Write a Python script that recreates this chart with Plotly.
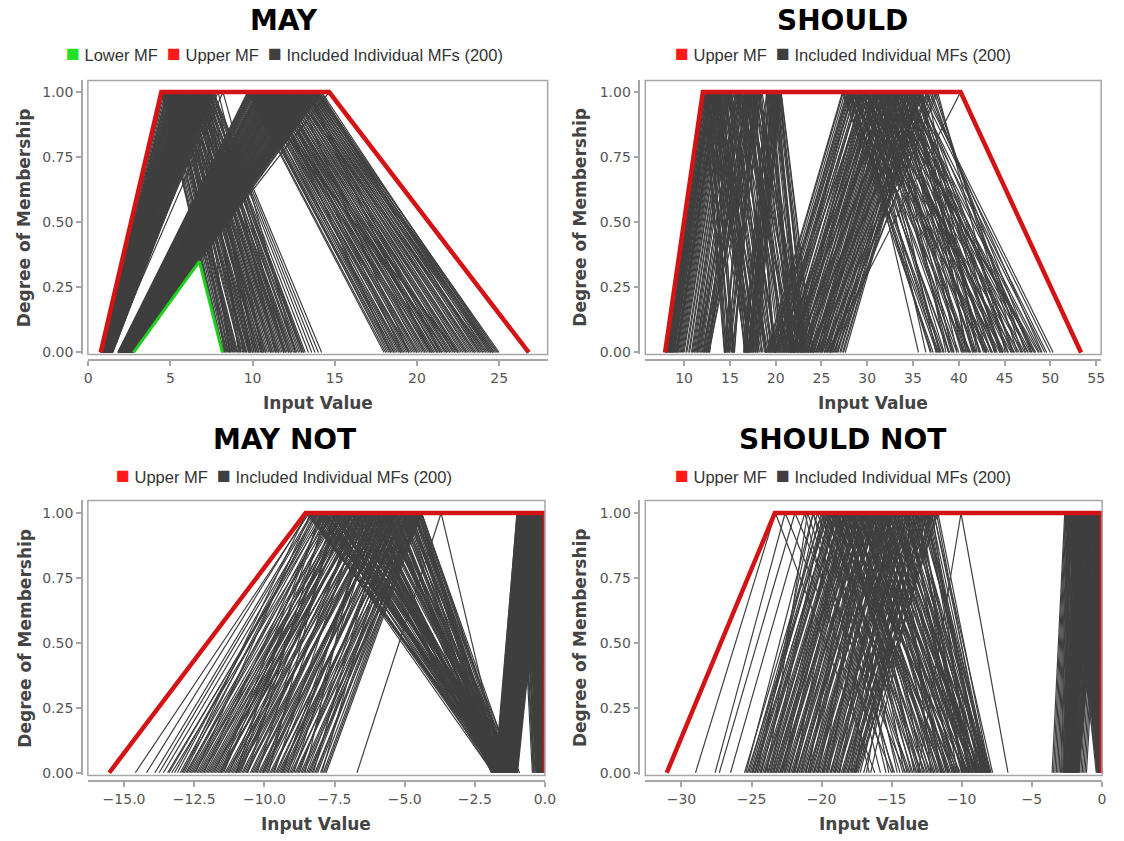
import plotly.graph_objects as go

W, H = 1124, 841

# ---------------- MAY ----------------
MAY_UPPER_X = [0.76, 4.45, 14.66, 26.8]
MAY_UPPER_Y = [0.0, 1.0, 1.0, 0.0]
MAY_LOWER_X = [2.76, 6.76, 8.16]
MAY_LOWER_Y = [0.0, 0.35, 0.0]
# individual triangular MFs as (left foot, peak, right foot)
MAY_EARLY_MFS = [
    (0.76, 4.45, 8.16), (0.78, 4.55, 8.25), (0.80, 4.70, 8.45), (0.83, 4.85, 8.40), (0.82, 4.90, 8.70),
    (0.86, 5.00, 8.95), (0.88, 5.05, 9.10), (0.90, 5.15, 9.05), (0.92, 5.25, 9.40), (0.93, 5.30, 9.60),
    (0.95, 5.40, 9.75), (0.97, 5.45, 9.55), (0.99, 5.55, 10.0), (1.00, 5.60, 10.2), (1.02, 5.65, 9.90),
    (1.03, 5.70, 10.4), (1.05, 5.80, 10.5), (1.07, 5.85, 10.3), (1.08, 5.90, 10.8), (1.10, 6.00, 10.9),
    (1.11, 6.05, 11.1), (1.13, 6.10, 10.7), (1.14, 6.20, 11.3), (1.16, 6.25, 11.5), (1.18, 6.30, 11.2),
    (1.19, 6.40, 11.7), (1.21, 6.45, 11.9), (1.22, 6.50, 11.6), (1.24, 6.60, 12.1), (1.26, 6.65, 12.2),
    (1.27, 6.75, 12.0), (1.29, 6.80, 12.4), (1.31, 6.90, 12.6), (1.33, 7.00, 12.3), (1.35, 7.05, 12.8),
    (1.38, 7.15, 13.0), (1.40, 7.25, 13.2), (1.43, 7.40, 13.1), (1.46, 7.50, 13.8), (1.50, 7.60, 14.2),
    (1.20, 7.90, 11.9), (1.32, 8.20, 12.6), (0.95, 6.35, 8.60), (1.05, 6.70, 9.30), (0.85, 5.75, 8.30),
    (1.25, 7.30, 9.80), (0.79, 5.20, 8.90), (1.15, 6.95, 10.1), (0.77, 4.50, 8.20), (0.79, 4.62, 8.35),
    (0.81, 4.78, 8.55), (0.84, 4.80, 8.62), (0.85, 4.95, 8.80), (0.87, 5.02, 8.85), (0.89, 5.10, 9.00),
    (0.91, 5.20, 9.25), (0.92, 5.28, 9.30), (0.94, 5.35, 9.50), (0.96, 5.42, 9.65), (0.98, 5.50, 9.85),
    (1.00, 5.58, 9.80), (1.01, 5.62, 10.1), (1.03, 5.68, 10.0), (1.04, 5.75, 10.3), (1.06, 5.82, 10.6),
    (1.08, 5.88, 10.4), (1.09, 5.95, 10.7), (1.11, 6.02, 11.0), (1.12, 6.08, 10.8), (1.14, 6.15, 11.2),
    (1.15, 6.22, 11.4), (1.17, 6.28, 11.1), (1.19, 6.35, 11.6), (1.20, 6.42, 11.8), (1.22, 6.48, 11.5),
    (1.23, 6.55, 12.0), (1.25, 6.62, 12.3), (1.27, 6.70, 11.9), (1.28, 6.72, 12.5), (1.30, 6.85, 12.7),
    (1.32, 6.95, 12.2), (1.34, 7.02, 12.9), (1.36, 7.10, 13.1), (1.37, 7.20, 12.6), (1.39, 7.30, 13.4),
    (1.41, 7.35, 13.0), (1.44, 7.45, 13.6), (1.47, 7.55, 14.0), (0.81, 5.30, 8.50), (0.90, 5.65, 8.75),
    (0.99, 6.00, 9.20), (1.08, 6.35, 9.45), (1.17, 6.70, 9.90), (1.26, 7.05, 10.2), (1.35, 7.40, 10.6),
    (1.44, 7.70, 11.4), (0.88, 5.85, 8.65), (1.12, 6.90, 9.15), (1.10, 6.12, 10.55),
]
MAY_LATE_MFS = [
    (1.80, 9.70, 18.0), (1.84, 9.85, 18.3), (1.86, 9.95, 18.6), (1.88, 10.05, 18.2), (1.90, 10.15, 18.9),
    (1.93, 10.30, 19.1), (1.95, 10.40, 18.7), (1.97, 10.50, 19.4), (2.00, 10.60, 19.6), (2.02, 10.70, 19.2),
    (2.04, 10.80, 19.9), (2.06, 10.90, 20.1), (2.08, 11.00, 19.7), (2.10, 11.10, 20.4), (2.12, 11.20, 20.6),
    (2.14, 11.30, 20.2), (2.16, 11.40, 20.9), (2.18, 11.50, 21.1), (2.20, 11.60, 20.7), (2.22, 11.70, 21.4),
    (2.24, 11.80, 21.6), (2.26, 11.90, 21.2), (2.28, 12.00, 21.9), (2.30, 12.10, 22.1), (2.32, 12.20, 21.7),
    (2.34, 12.30, 22.4), (2.36, 12.40, 22.6), (2.38, 12.50, 22.2), (2.40, 12.60, 22.9), (2.42, 12.70, 23.1),
    (2.44, 12.80, 22.7), (2.46, 12.90, 23.4), (2.48, 13.00, 23.6), (2.50, 13.10, 23.2), (2.52, 13.20, 23.9),
    (2.54, 13.30, 24.1), (2.56, 13.40, 23.7), (2.58, 13.50, 24.4), (2.60, 13.60, 24.6), (2.62, 13.70, 24.2),
    (2.64, 13.80, 24.8), (2.66, 13.90, 25.0), (2.68, 14.00, 24.5), (2.76, 14.20, 24.7), (2.30, 14.66, 26.8),
    (2.05, 11.25, 18.4), (2.35, 12.65, 19.5), (2.15, 10.45, 21.8), (2.45, 13.35, 20.8), (1.92, 9.90, 22.5),
    (1.81, 9.75, 18.1), (1.83, 9.80, 18.5), (1.85, 9.92, 18.4), (1.87, 10.00, 18.8), (1.89, 10.10, 19.0),
    (1.91, 10.22, 18.6), (1.94, 10.35, 19.3), (1.96, 10.45, 19.5), (1.98, 10.55, 19.0), (2.01, 10.65, 19.8),
    (2.03, 10.75, 20.0), (2.05, 10.85, 19.5), (2.07, 10.95, 20.3), (2.09, 11.05, 20.5), (2.11, 11.15, 20.0),
    (2.13, 11.25, 20.8), (2.15, 11.35, 21.0), (2.17, 11.45, 20.5), (2.19, 11.55, 21.3), (2.21, 11.65, 21.5),
    (2.23, 11.75, 21.0), (2.25, 11.85, 21.8), (2.27, 11.95, 22.0), (2.29, 12.05, 21.5), (2.31, 12.15, 22.3),
    (2.33, 12.25, 22.5), (2.35, 12.35, 22.0), (2.37, 12.45, 22.8), (2.39, 12.55, 23.0), (2.41, 12.65, 22.5),
    (2.43, 12.75, 23.3), (2.45, 12.85, 23.5), (2.47, 12.95, 23.0), (2.49, 13.05, 23.8), (2.51, 13.15, 24.0),
    (2.53, 13.25, 23.5), (2.55, 13.35, 24.3), (2.57, 13.45, 24.5), (2.59, 13.55, 24.0), (2.61, 13.65, 24.7),
    (2.63, 13.75, 24.9), (2.65, 13.85, 24.4), (2.67, 13.95, 24.6), (2.69, 14.05, 24.9), (1.96, 10.40, 20.9),
    (2.11, 11.00, 22.3), (2.27, 11.70, 19.1), (2.43, 12.50, 24.2), (2.58, 13.40, 21.4), (2.72, 14.15, 23.8),
    (2.20, 11.62, 21.25),
]

# ---------------- SHOULD ----------------
SHOULD_UPPER_X = [7.92, 12.05, 40.2, 53.35]
SHOULD_UPPER_Y = [0.0, 1.0, 1.0, 0.0]
SHOULD_EARLY_MFS = [
    (7.95, 12.10, 14.40), (8.10, 12.30, 14.45), (8.30, 12.60, 15.00), (8.05, 12.20, 16.80), (8.50, 12.90, 17.20),
    (8.70, 13.10, 15.30), (8.20, 12.45, 17.60), (8.90, 13.30, 18.00), (9.10, 13.60, 16.90), (8.40, 12.75, 14.90),
    (9.30, 13.80, 18.40), (9.50, 14.00, 17.40), (8.60, 13.00, 19.00), (9.70, 14.20, 18.80), (9.90, 14.50, 17.00),
    (10.20, 14.70, 19.40), (8.80, 13.40, 15.45), (10.50, 14.90, 18.20), (9.20, 13.70, 16.60), (10.80, 15.00, 19.80),
    (11.0, 15.2, 19.0), (11.4, 15.6, 20.2), (12.8, 14.9, 17.0), (11.8, 16.0, 19.6), (12.2, 16.4, 21.0),
    (12.5, 16.8, 20.4), (11.2, 15.8, 22.0), (12.0, 17.0, 21.6), (14.4, 17.2, 20.0), (12.6, 17.5, 22.4),
    (14.6, 17.8, 21.2), (14.9, 18.0, 22.8), (12.4, 18.2, 23.0), (15.2, 18.4, 21.8), (15.5, 17.6, 19.8),
    (11.6, 16.2, 18.5), (12.7, 18.5, 23.6), (14.5, 16.6, 18.9),
    (16.5, 19.0, 21.6), (16.8, 19.3, 22.3), (17.1, 19.6, 22.0), (16.6, 19.8, 23.0), (17.4, 20.0, 22.7),
    (17.0, 20.2, 23.4), (17.7, 20.4, 23.8), (16.9, 20.6, 24.1), (17.3, 19.5, 21.9), (18.0, 20.5, 23.2),
    (8.00, 12.15, 14.60), (8.15, 12.35, 15.20), (8.25, 12.55, 17.00), (8.35, 12.70, 14.70), (8.45, 12.85, 17.40),
    (8.55, 12.95, 15.40), (8.65, 13.05, 17.80), (8.75, 13.20, 18.20), (8.85, 13.35, 16.70), (8.95, 13.45, 18.60),
    (9.05, 13.55, 15.35), (9.15, 13.65, 19.20), (9.25, 13.75, 17.10), (9.40, 13.90, 18.00), (9.60, 14.10, 16.80),
    (9.80, 14.35, 19.00), (10.0, 14.55, 17.60), (10.3, 14.75, 18.90), (10.6, 14.85, 19.60), (10.9, 15.05, 20.20),
    (11.1, 15.4, 19.3), (11.3, 15.7, 21.4), (11.5, 15.9, 20.0), (11.7, 16.1, 22.2), (11.9, 16.3, 19.9),
    (12.1, 16.6, 21.8), (12.3, 16.9, 20.6), (12.45, 17.1, 22.6), (12.65, 17.3, 21.0), (12.75, 17.7, 23.2),
    (14.45, 17.0, 19.5), (14.7, 17.4, 20.8), (14.8, 17.9, 21.5), (15.0, 18.1, 22.0), (15.3, 18.3, 20.5),
    (15.45, 17.7, 19.9), (12.35, 18.0, 23.4), (11.45, 16.7, 21.2),
    (16.55, 19.1, 22.0), (16.7, 19.4, 21.8), (16.95, 19.7, 22.5), (17.2, 19.9, 23.1), (17.5, 20.1, 22.9),
    (17.6, 20.3, 23.6), (17.8, 20.55, 24.0), (16.75, 19.25, 21.7), (17.15, 20.45, 23.3), (17.95, 20.25, 22.4),
    (8.48, 12.80, 14.55), (12.15, 17.2, 22.1), (17.35, 19.75, 22.8),
]
SHOULD_LATE_MFS = [
    (19.0, 27.3, 37.2), (19.3, 27.6, 37.8), (19.6, 27.9, 38.3), (19.9, 28.2, 37.0), (20.2, 28.5, 38.9),
    (20.5, 29.0, 35.6), (20.8, 29.2, 39.4), (21.1, 29.5, 38.0), (21.4, 29.8, 40.0), (21.7, 30.1, 36.4),
    (22.0, 30.4, 40.6), (22.3, 30.7, 39.2), (22.6, 31.0, 41.2), (22.9, 31.3, 37.5), (23.2, 31.6, 41.8),
    (23.5, 31.9, 40.3), (23.8, 32.2, 42.4), (24.1, 32.5, 38.6), (24.4, 32.8, 43.0), (24.7, 33.1, 41.5),
    (25.0, 33.4, 43.6), (25.3, 33.7, 39.8), (25.6, 34.0, 44.2), (25.9, 34.3, 42.7), (26.2, 34.6, 44.8),
    (26.5, 34.9, 41.0), (26.8, 35.2, 45.4), (27.1, 35.5, 43.9), (27.4, 35.8, 46.0), (27.6, 35.8, 42.2),
    (19.8, 30.0, 46.6), (20.6, 31.5, 47.2), (21.3, 32.6, 47.8), (22.1, 33.5, 48.4), (22.8, 34.4, 49.0),
    (23.6, 35.4, 49.6), (24.3, 36.2, 50.3), (25.1, 36.8, 48.0), (25.8, 37.3, 46.9), (26.3, 37.7, 45.1),
    (20.0, 28.8, 44.5), (21.0, 30.6, 45.7), (22.5, 32.0, 44.0), (23.9, 33.3, 46.3), (24.9, 34.5, 47.5),
    (19.4, 28.0, 42.9), (26.0, 36.0, 40.8), (21.9, 29.4, 43.3), (23.3, 30.9, 45.0), (24.6, 31.8, 48.7),
    (25.6, 40.2, 53.35),
    (19.1, 27.4, 37.6), (19.5, 27.8, 38.1), (19.7, 28.1, 36.9), (20.1, 28.4, 39.0), (20.4, 28.7, 37.7),
    (20.9, 29.1, 39.8), (21.2, 29.6, 38.4), (21.5, 29.9, 40.5), (21.8, 30.2, 37.9), (22.2, 30.5, 41.1),
    (22.4, 30.8, 39.5), (22.7, 31.1, 41.7), (23.0, 31.4, 38.9), (23.4, 31.7, 42.3), (23.7, 32.0, 40.7),
    (24.0, 32.4, 42.9), (24.2, 32.7, 39.3), (24.5, 33.0, 43.5), (24.8, 33.3, 41.9), (25.1, 33.6, 44.1),
    (25.4, 33.9, 40.4), (25.7, 34.2, 44.7), (26.0, 34.5, 43.1), (26.4, 34.8, 45.3), (26.7, 35.1, 41.6),
    (27.0, 35.4, 45.9), (27.3, 35.7, 44.5), (19.9, 29.3, 46.1), (20.8, 30.9, 47.0), (21.6, 32.1, 47.6),
    (22.3, 33.2, 48.2), (23.1, 34.1, 48.8), (23.8, 35.0, 49.4), (24.6, 35.9, 50.0), (25.3, 36.5, 49.1),
    (25.9, 37.0, 47.3), (26.6, 37.5, 46.4), (20.3, 29.7, 44.8), (21.4, 31.2, 45.4), (22.9, 32.9, 44.6),
    (24.4, 34.0, 46.8), (25.5, 35.6, 47.9), (19.2, 28.5, 43.7), (26.1, 36.6, 42.0), (22.0, 29.9, 43.0),
    (23.5, 31.3, 44.0), (24.9, 32.3, 48.3), (20.7, 28.3, 41.3), (21.95, 31.0, 40.9), (24.15, 33.55, 45.8),
]

# ---------------- MAY NOT ----------------
MAY_NOT_UPPER_X = [-15.53, -8.53, 0.0, 0.0]
MAY_NOT_UPPER_Y = [0.0, 1.0, 1.0, 0.0]
MAY_NOT_WIDE_MFS = [
    (-14.6, -8.40, -1.60), (-13.9, -8.30, -1.75), (-13.6, -8.10, -1.20), (-13.3, -7.60, -1.55), (-13.0, -7.90, -1.85),
    (-12.8, -7.40, -1.30), (-12.7, -7.70, -1.65), (-12.6, -7.20, -1.45), (-12.5, -6.90, -1.10), (-12.4, -7.50, -1.70),
    (-12.3, -7.00, -1.35), (-12.2, -6.70, -1.80), (-12.1, -7.30, -1.25), (-12.0, -6.80, -1.50), (-11.9, -6.50, -1.60),
    (-11.8, -7.10, -1.05), (-11.7, -6.60, -1.40), (-11.6, -6.30, -1.75), (-11.5, -6.90, -1.20), (-11.4, -6.40, -1.55),
    (-11.3, -6.00, -1.90), (-11.2, -6.70, -1.30), (-11.1, -6.20, -1.65), (-11.0, -5.80, -1.15), (-10.9, -6.50, -1.45),
    (-10.8, -6.10, -1.85), (-10.7, -5.70, -1.35), (-10.6, -6.30, -1.60), (-10.5, -5.90, -1.00), (-10.4, -5.50, -1.70),
    (-10.3, -6.00, -1.25), (-10.2, -5.60, -1.50), (-10.1, -5.30, -1.80), (-10.0, -5.80, -1.10), (-9.9, -5.40, -1.40),
    (-9.8, -5.10, -1.65), (-9.7, -5.70, -1.30), (-9.6, -5.20, -1.55), (-9.5, -4.90, -1.20), (-9.4, -5.50, -1.75),
    (-9.3, -5.00, -1.45), (-9.2, -4.70, -1.05), (-9.1, -5.30, -1.60), (-9.0, -4.80, -1.35), (-8.9, -4.50, -1.70),
    (-8.8, -5.10, -1.15), (-8.7, -4.60, -1.50), (-8.6, -4.40, -1.25), (-8.5, -4.90, -1.80), (-8.4, -4.50, -1.40),
    (-8.3, -4.70, -1.60), (-8.2, -4.40, -1.10), (-8.1, -4.60, -1.45), (-8.0, -4.50, -1.30), (-7.9, -4.50, -1.55),
    (-7.8, -4.40, -1.20), (-6.7, -3.70, -1.50), (-12.9, -8.50, -1.40), (-13.1, -8.20, -1.00), (-11.0, -8.00, -1.70),
    (-10.6, -7.80, -1.35), (-12.45, -8.35, -1.85), (-9.85, -7.50, -1.55), (-11.45, -7.65, -0.95), (-10.25, -7.35, -1.75),
    (-9.15, -6.20, -1.25), (-8.55, -6.40, -1.60), (-8.95, -5.95, -1.45), (-9.65, -6.55, -1.90), (-10.85, -7.05, -1.15),
    (-11.25, -7.25, -1.50), (-12.15, -7.85, -1.65), (-13.4, -7.95, -1.30), (-8.25, -5.65, -0.90), (-7.95, -5.35, -1.75),
    (-14.2, -8.45, -1.50), (-13.75, -8.25, -1.65), (-13.45, -7.85, -1.35), (-12.95, -7.55, -1.80), (-12.75, -7.80, -1.20),
    (-12.65, -7.35, -1.55), (-12.55, -7.05, -1.70), (-12.35, -7.15, -1.40), (-12.25, -6.85, -1.85), (-12.05, -6.95, -1.10),
    (-11.95, -6.65, -1.60), (-11.85, -6.45, -1.30), (-11.75, -6.85, -1.75), (-11.65, -6.25, -1.45), (-11.55, -6.55, -1.15),
    (-11.35, -6.15, -1.65), (-11.15, -6.35, -1.90), (-11.05, -5.95, -1.25), (-10.95, -5.75, -1.55), (-10.75, -6.05, -1.35),
    (-10.65, -5.65, -1.80), (-10.45, -5.85, -1.05), (-10.35, -5.45, -1.50), (-10.15, -5.55, -1.70), (-10.05, -5.25, -1.20),
    (-9.95, -5.65, -1.60), (-9.75, -5.15, -1.40), (-9.55, -5.35, -1.85), (-9.45, -4.95, -1.15), (-9.35, -5.05, -1.65),
    (-9.25, -4.85, -1.30), (-9.05, -4.65, -1.55), (-8.85, -4.75, -1.75), (-8.65, -4.55, -1.45), (-8.45, -4.45, -1.25),
    (-8.35, -4.85, -1.60), (-8.15, -4.65, -1.35), (-7.85, -4.45, -1.50), (-12.85, -8.15, -1.75), (-11.55, -7.95, -1.40),
    (-10.95, -7.45, -1.65), (-10.05, -6.75, -1.30), (-9.35, -6.05, -1.80), (-8.75, -5.45, -1.20), (-13.2, -8.05, -1.55),
]
MAY_NOT_NARROW_MFS = [
    (-1.75, -1.00, -0.10), (-1.70, -0.95, -0.05), (-1.68, -0.90, -0.20), (-1.65, -0.85, 0.00), (-1.62, -0.82, -0.15),
    (-1.60, -0.78, -0.02), (-1.57, -0.75, -0.25), (-1.55, -0.72, -0.08), (-1.52, -0.70, 0.00), (-1.50, -0.66, -0.12),
    (-1.47, -0.63, -0.30), (-1.45, -0.60, -0.04), (-1.42, -0.57, 0.00), (-1.40, -0.54, -0.18), (-1.37, -0.51, -0.06),
    (-1.35, -0.48, 0.00), (-1.32, -0.45, -0.10), (-1.30, -0.42, -0.22), (-1.27, -0.39, 0.00), (-1.25, -0.36, -0.03),
    (-1.22, -0.33, -0.14), (-1.20, -0.30, 0.00), (-1.17, -0.27, -0.07), (-1.15, -0.24, 0.00), (-1.12, -0.21, -0.05),
    (-1.10, -0.18, 0.00), (-1.07, -0.15, -0.02), (-1.05, -0.12, 0.00), (-1.02, -0.09, 0.00), (-1.00, -0.05, 0.00),
    (-1.60, -0.98, -0.35), (-1.48, -0.88, -0.28), (-1.38, -0.68, -0.40), (-1.28, -0.58, -0.16), (-1.18, -0.50, -0.09),
    (-1.08, -0.40, -0.20), (-1.72, -0.93, -0.45), (-1.44, -0.80, -0.12), (-1.33, -0.62, -0.26), (-1.21, -0.47, -0.01),
    (-1.78, -0.99, -0.22), (-1.74, -0.96, -0.08), (-1.71, -0.92, 0.00), (-1.69, -0.88, -0.30), (-1.66, -0.86, -0.04),
    (-1.63, -0.83, 0.00), (-1.61, -0.80, -0.18), (-1.58, -0.77, -0.06), (-1.56, -0.74, 0.00), (-1.53, -0.71, -0.24),
    (-1.51, -0.68, -0.02), (-1.49, -0.65, 0.00), (-1.46, -0.62, -0.14), (-1.43, -0.59, -0.05), (-1.41, -0.56, 0.00),
    (-1.39, -0.53, -0.20), (-1.36, -0.50, -0.03), (-1.34, -0.47, 0.00), (-1.31, -0.44, -0.11), (-1.29, -0.41, 0.00),
    (-1.26, -0.38, -0.16), (-1.24, -0.35, -0.01), (-1.21, -0.32, 0.00), (-1.19, -0.29, -0.08), (-1.16, -0.26, 0.00),
    (-1.14, -0.23, -0.04), (-1.11, -0.20, 0.00), (-1.09, -0.17, -0.02), (-1.06, -0.14, 0.00), (-1.04, -0.11, 0.00),
    (-1.01, -0.07, 0.00), (-0.98, -0.02, 0.00), (-1.66, -0.97, -0.38), (-1.54, -0.90, -0.32), (-1.42, -0.73, -0.27),
    (-1.30, -0.64, -0.19), (-1.20, -0.55, -0.13), (-1.10, -0.44, -0.28), (-1.50, -0.84, -0.42), (-1.25, -0.52, -0.07),
]

# ---------------- SHOULD NOT ----------------
SHOULD_NOT_UPPER_X = [-31.05, -23.34, 0.0, 0.0]
SHOULD_NOT_UPPER_Y = [0.0, 1.0, 1.0, 0.0]
SHOULD_NOT_WIDE_MFS = [
    (-29.0, -23.3, -16.2), (-27.6, -22.6, -15.0), (-27.3, -21.9, -14.0), (-26.5, -21.2, -16.6), (-25.4, -20.6, -13.8),
    (-25.2, -20.0, -15.4), (-25.0, -19.6, -12.9), (-24.8, -19.3, -13.5), (-24.6, -19.0, -12.4), (-24.4, -18.8, -14.6),
    (-24.2, -18.6, -12.0), (-24.0, -18.4, -13.1), (-23.8, -18.2, -11.6), (-23.6, -18.0, -12.7), (-23.4, -17.8, -11.2),
    (-23.2, -17.6, -12.3), (-23.0, -17.4, -10.8), (-22.8, -17.2, -11.9), (-22.6, -17.0, -10.5), (-22.4, -16.8, -11.5),
    (-22.2, -16.6, -10.2), (-22.0, -16.4, -11.1), (-21.8, -16.2, -9.9), (-21.6, -16.0, -10.7), (-21.4, -15.8, -9.6),
    (-21.2, -15.6, -10.4), (-21.0, -15.4, -9.3), (-20.8, -15.2, -10.0), (-20.6, -15.0, -9.0), (-20.4, -14.8, -9.7),
    (-20.2, -14.6, -8.8), (-20.0, -14.4, -9.4), (-19.8, -14.2, -8.5), (-19.6, -14.0, -9.1), (-19.4, -13.8, -8.3),
    (-19.2, -13.6, -8.9), (-19.0, -13.4, -8.1), (-18.8, -13.2, -8.7), (-18.6, -13.0, -7.9), (-18.4, -12.8, -8.4),
    (-18.2, -12.6, -8.0), (-18.0, -12.4, -8.6), (-17.8, -12.2, -8.2), (-17.6, -12.0, -7.8), (-17.4, -11.8, -8.3),
    (-17.5, -11.7, -8.0), (-13.1, -10.05, -6.7), (-25.3, -19.5, -14.2), (-24.9, -19.2, -11.3), (-24.5, -18.9, -10.9),
    (-24.1, -18.5, -13.3), (-23.7, -18.1, -10.1), (-23.3, -17.7, -12.5), (-22.9, -17.3, -9.8), (-22.5, -16.9, -12.1),
    (-22.1, -16.5, -9.2), (-21.7, -16.1, -11.8), (-21.3, -15.7, -8.7), (-20.9, -15.3, -11.4), (-20.5, -14.9, -8.4),
    (-20.1, -14.5, -10.6), (-19.7, -14.1, -8.2), (-19.3, -13.7, -10.3), (-18.9, -13.3, -9.5), (-18.5, -12.9, -9.9),
    (-18.1, -12.5, -9.2), (-17.7, -12.1, -9.5), (-24.7, -20.3, -13.7), (-23.9, -21.0, -14.8), (-25.1, -19.8, -12.6),
    (-24.3, -19.4, -10.4), (-23.5, -18.7, -9.7), (-22.7, -18.3, -11.7), (-21.9, -17.1, -8.9), (-21.1, -16.7, -10.9),
    (-20.3, -16.3, -8.6), (-19.5, -15.9, -11.0), (-18.7, -15.5, -9.0), (-17.9, -15.1, -11.5), (-17.6, -14.7, -8.8),
    (-23.1, -17.9, -13.0), (-22.3, -17.5, -9.5), (-21.5, -16.3, -12.8), (-20.7, -15.5, -8.9), (-19.9, -14.3, -12.2),
    (-19.1, -13.9, -9.8), (-18.3, -13.1, -10.0), (-17.7, -12.7, -8.1), (-16.5, -12.3, -8.5), (-16.8, -13.5, -9.3),
    (-25.5, -20.0, -14.9), (-24.95, -19.7, -13.2), (-24.75, -19.1, -12.2), (-24.35, -18.9, -13.9), (-24.05, -18.3, -11.4),
    (-23.85, -18.6, -12.9), (-23.45, -17.9, -10.6), (-23.25, -18.2, -12.0), (-22.95, -17.5, -10.3), (-22.65, -17.8, -11.3),
    (-22.35, -16.9, -9.6), (-22.05, -17.3, -11.0), (-21.75, -16.5, -9.4), (-21.45, -16.8, -10.5), (-21.15, -16.1, -9.1),
    (-20.85, -16.4, -10.2), (-20.55, -15.6, -8.6), (-20.25, -15.9, -9.9), (-19.95, -15.2, -8.3), (-19.65, -15.5, -9.6),
    (-19.35, -14.7, -8.0), (-19.05, -14.9, -9.0), (-18.75, -14.2, -8.5), (-18.45, -13.9, -9.4), (-18.15, -13.6, -8.2),
    (-17.85, -13.2, -8.9), (-17.55, -12.8, -8.3), (-17.25, -12.5, -8.7), (-17.0, -12.0, -8.1), (-24.6, -20.6, -15.8),
    (-23.65, -19.9, -14.4), (-22.8, -19.1, -15.2), (-21.95, -18.4, -13.6), (-20.95, -17.6, -14.1), (-19.85, -16.9, -13.4),
]
SHOULD_NOT_NARROW_MFS = [
    (-3.55, -2.65, -0.30), (-3.35, -2.55, -0.10), (-3.15, -2.45, 0.00), (-2.95, -2.40, -0.20), (-2.80, -2.35, -0.05),
    (-2.70, -2.30, -0.40), (-2.65, -2.25, 0.00), (-2.60, -2.20, -0.15), (-2.58, -2.10, -0.02), (-2.55, -2.05, -0.25),
    (-2.52, -2.00, 0.00), (-2.50, -1.95, -0.08), (-2.48, -1.90, -0.35), (-2.46, -1.85, 0.00), (-2.44, -1.80, -0.12),
    (-2.42, -1.75, -0.03), (-2.40, -1.70, 0.00), (-2.38, -1.65, -0.18), (-2.36, -1.60, -0.06), (-2.34, -1.55, 0.00),
    (-2.32, -1.50, -0.22), (-2.30, -1.45, -0.01), (-2.28, -1.40, 0.00), (-2.26, -1.35, -0.10), (-2.24, -1.30, -0.04),
    (-2.22, -1.25, 0.00), (-2.20, -1.20, -0.16), (-2.18, -1.15, -0.02), (-2.16, -1.10, 0.00), (-2.14, -1.05, -0.07),
    (-2.12, -1.00, 0.00), (-2.10, -0.95, -0.12), (-2.08, -0.90, 0.00), (-2.06, -0.85, -0.03), (-2.04, -0.80, 0.00),
    (-2.02, -0.75, -0.09), (-2.00, -0.70, 0.00), (-1.95, -0.60, -0.05), (-1.90, -0.50, 0.00), (-1.85, -0.40, -0.02),
    (-1.80, -0.30, 0.00), (-1.75, -0.20, 0.00), (-1.70, -0.12, 0.00), (-1.65, -0.05, 0.00), (-2.62, -1.88, -0.28),
    (-3.45, -2.60, -0.15), (-3.25, -2.50, 0.00), (-3.05, -2.42, -0.25), (-2.88, -2.38, -0.05), (-2.75, -2.32, 0.00),
    (-2.68, -2.27, -0.12), (-2.63, -2.22, -0.03), (-2.56, -2.08, -0.20), (-2.49, -1.92, 0.00), (-2.41, -1.72, 0.00),
    (-2.33, -1.52, 0.00), (-2.25, -1.32, 0.00), (-2.17, -1.12, 0.00), (-2.09, -0.92, 0.00), (-2.01, -0.72, 0.00),
    (-1.92, -0.52, 0.00), (-1.87, -0.42, 0.00), (-1.82, -0.32, -0.01), (-1.77, -0.22, 0.00), (-1.72, -0.14, 0.00),
    (-1.67, -0.02, 0.00), (-1.60, -0.45, 0.00), (-1.50, -0.35, 0.00), (-1.40, -0.25, 0.00), (-1.30, -0.15, 0.00),
    (-1.20, -0.08, 0.00), (-1.10, -0.03, 0.00), (-2.30, -0.85, -0.04), (-2.20, -0.65, 0.00), (-2.10, -0.45, 0.00),
]

GRAY = "#3f3f3f"
RED = "#d41414"
RED_KEY = "#ff1a1a"
GREEN = "#1fcf1f"
GREEN_KEY = "#22e022"
FRAME = "#a6a6a6"
TICK_FONT = dict(family="DejaVu Sans", size=14, color="#555555")
TITLE_FONT = dict(family="DejaVu Sans", size=28, color="#000000")
AXIS_TITLE_FONT = dict(family="DejaVu Sans", size=17, color="#444444")
KEY_FONT = dict(family="Liberation Sans, Arial", size=16.5, color="#333333")

# frame boxes in pixels: left, right, top, bottom
PANELS = [
    dict(title="MAY", mfs=MAY_EARLY_MFS + MAY_LATE_MFS,
         upper=(MAY_UPPER_X, MAY_UPPER_Y), lower=(MAY_LOWER_X, MAY_LOWER_Y),
         box=(85, 551, 81, 357), xr=[-0.02, 27.95], yr=[-0.0076, 1.0446],
         dtick=5, xfmt="", cx=284, ytx=21),
    dict(title="SHOULD", mfs=SHOULD_EARLY_MFS + SHOULD_LATE_MFS,
         upper=(SHOULD_UPPER_X, SHOULD_UPPER_Y), lower=None,
         box=(650, 1112, 81, 357), xr=[5.765, 55.55], yr=[-0.0076, 1.0446],
         dtick=5, xfmt="", cx=850, ytx=584),
    dict(title="MAY NOT", mfs=MAY_NOT_WIDE_MFS + MAY_NOT_NARROW_MFS,
         upper=(MAY_NOT_UPPER_X, MAY_NOT_UPPER_Y), lower=None,
         box=(85, 548.3, 504, 781), xr=[-16.29, 0.0], yr=[-0.0103, 1.0486],
         dtick=2.5, xfmt=".1f", cx=284, ytx=21),
    dict(title="SHOULD NOT", mfs=SHOULD_NOT_WIDE_MFS + SHOULD_NOT_NARROW_MFS,
         upper=(SHOULD_NOT_UPPER_X, SHOULD_NOT_UPPER_Y), lower=None,
         box=(650, 1113, 504, 781), xr=[-32.58, 0.02], yr=[-0.0103, 1.0486],
         dtick=5, xfmt="", cx=850, ytx=584),
]


def triangles(mfs):
    xs, ys = [], []
    for a, b, c in mfs:
        xs += [a, b, c, None]
        ys += [0.0, 1.0, 0.0, None]
    return xs, ys


def px(x):
    return x / W


def py(y):
    return 1 - y / H


def key_text(has_lower, count):
    sq = '<span style="font-size:23px;color:{}">■</span>'
    nb = "\u00a0"
    parts = []
    if has_lower:
        parts.append(sq.format(GREEN_KEY) + nb + "Lower MF")
    parts.append(sq.format(RED_KEY) + nb + "Upper MF")
    parts.append(sq.format(GRAY) + nb + f"Included Individual MFs ({count})")
    return (nb * 2).join(parts)


fig = go.Figure()
layout = dict(width=W, height=H, margin=dict(l=0, r=0, t=0, b=0),
              paper_bgcolor="white", plot_bgcolor="white", showlegend=False)
shapes, annotations = [], []

for i, p in enumerate(PANELS):
    n = "" if i == 0 else str(i + 1)
    xa, ya = "x" + n, "y" + n
    l, r, t, b = p["box"]

    gx, gy = triangles(p["mfs"])
    fig.add_trace(go.Scatter(x=gx, y=gy, mode="lines", line=dict(color=GRAY, width=1.2),
                             xaxis=xa, yaxis=ya, hoverinfo="skip", name="Included Individual MFs"))
    ux, uy = p["upper"]
    fig.add_trace(go.Scatter(x=ux, y=uy, mode="lines", line=dict(color=RED, width=4.5),
                             xaxis=xa, yaxis=ya, name="Upper MF"))
    if p["lower"] is not None:
        lx, ly = p["lower"]
        fig.add_trace(go.Scatter(x=lx, y=ly, mode="lines", line=dict(color=GREEN, width=3),
                                 xaxis=xa, yaxis=ya, name="Lower MF"))

    axis_style = dict(showline=True, linecolor=FRAME, linewidth=1.5, ticks="outside", ticklen=5,
                      tickcolor=FRAME, tickwidth=1.5, showgrid=False, zeroline=False,
                      tickfont=TICK_FONT, anchor="free")
    layout["xaxis" + n] = dict(axis_style, domain=[px(l), px(r)], range=p["xr"],
                               position=py(b + 6), dtick=p["dtick"], tick0=0,
                               tickformat=p["xfmt"])
    layout["yaxis" + n] = dict(axis_style, domain=[py(b), py(t)], range=p["yr"],
                               position=px(l - 6), tickvals=[0, 0.25, 0.5, 0.75, 1.0],
                               tickformat=".2f")

    shapes.append(dict(type="rect", xref=xa + " domain", yref=ya + " domain", x0=0, x1=1, y0=0, y1=1,
                       line=dict(color=FRAME, width=1.5), fillcolor="rgba(0,0,0,0)", layer="above"))

    top_row = t < 200
    annotations.append(dict(text="<b>" + p["title"] + "</b>", x=px(p["cx"]), y=py(21 if top_row else 443),
                            xref="paper", yref="paper", showarrow=False, font=TITLE_FONT,
                            xanchor="center", yanchor="middle"))
    annotations.append(dict(text=key_text(p["lower"] is not None, len(p["mfs"])), x=px(p["cx"]),
                            y=py(53 if top_row else 478), xref="paper", yref="paper", showarrow=False,
                            font=KEY_FONT, xanchor="center", yanchor="middle"))
    annotations.append(dict(text="<b>Input Value</b>", x=px((l + r) / 2), y=py(b + 49),
                            xref="paper", yref="paper", showarrow=False, font=AXIS_TITLE_FONT,
                            xanchor="center", yanchor="middle"))
    annotations.append(dict(text="<b>Degree of Membership</b>", x=px(p["ytx"]), y=py((t + b) / 2),
                            xref="paper", yref="paper", showarrow=False, font=AXIS_TITLE_FONT,
                            textangle=-90, xanchor="center", yanchor="middle"))

layout["shapes"] = shapes
layout["annotations"] = annotations
fig.update_layout(**layout)
fig.write_html("out.html")
